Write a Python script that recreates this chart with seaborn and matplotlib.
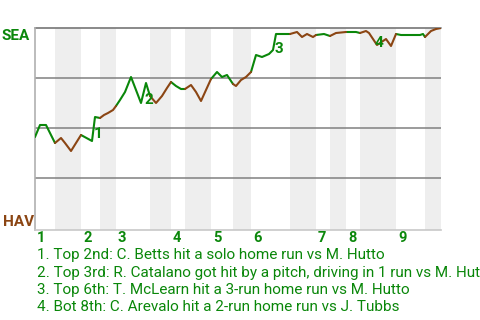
import matplotlib
matplotlib.use("Agg")
import matplotlib.pyplot as plt
import matplotlib.transforms as mtransforms
import seaborn as sns
import pandas as pd

# ---- data ----
# play position (horizontal offset along the game) and SEA win probability
play_x = [0, 5, 11, 20, 26, 30, 36, 46, 57, 60, 65, 69, 73, 78, 81, 85, 90, 96, 106, 111,
          115, 121, 127, 132, 136, 141, 146, 150, 156, 161, 166, 171, 176, 182, 187, 192,
          198, 201, 206, 211, 216, 221, 227, 234, 238, 241, 255, 262, 267, 272, 278, 281,
          289, 295, 301, 311, 321, 325, 331, 334, 342, 351, 356, 361, 366, 372, 380, 385,
          388, 390, 396, 401, 406]
sea_wp = [0.455, 0.515, 0.515, 0.425, 0.45, 0.425, 0.385, 0.465, 0.435, 0.555, 0.55, 0.565,
          0.575, 0.59, 0.61, 0.64, 0.68, 0.755, 0.625, 0.725, 0.66, 0.625, 0.66, 0.70, 0.73,
          0.71, 0.695, 0.695, 0.715, 0.68, 0.635, 0.69, 0.745, 0.78, 0.755, 0.765, 0.72,
          0.71, 0.74, 0.755, 0.78, 0.865, 0.855, 0.87, 0.89, 0.97, 0.97, 0.98, 0.955, 0.97,
          0.955, 0.965, 0.97, 0.96, 0.975, 0.98, 0.98, 0.975, 0.985, 0.975, 0.915, 0.945,
          0.91, 0.97, 0.965, 0.965, 0.965, 0.965, 0.97, 0.955, 0.985, 0.995, 1.0]
# half-inning boundaries (top 1st, bot 1st, top 2nd, ...)
half_bounds = [0, 20, 46, 65, 81, 115, 136, 150, 176, 198, 216, 255, 281, 295, 311, 325,
               361, 390, 406]
inning_labels = ["1", "2", "3", "4", "5", "6", "7", "8", "9"]
event_ids = ["1", "2", "3", "4"]
event_x = [60, 111, 241, 342]
event_wp = [0.555, 0.725, 0.97, 0.915]
event_texts = [
    "1. Top 2nd: C. Betts hit a solo home run vs M. Hutto",
    "2. Top 3rd: R. Catalano got hit by a pitch, driving in 1 run vs M. Hutto",
    "3. Top 6th: T. McLearn hit a 3-run home run vs M. Hutto",
    "4. Bot 8th: C. Arevalo hit a 2-run home run vs J. Tubbs",
]
team_top = "SEA"
team_bottom = "HAV"

GREEN = "#0a870a"
BROWN = "#8b4513"

sns.set_style("white")
plt.rcParams["font.family"] = ["Roboto", "DejaVu Sans"]

W, H = 480, 320
fig = plt.figure(figsize=(4.8, 3.2), dpi=100)
ax = fig.add_axes([35 / W, (H - 230) / H, 406 / W, 202 / H])

# build segment table
rows = []
for i in range(len(half_bounds) - 1):
    a, b = half_bounds[i], half_bounds[i + 1]
    team = team_top if i % 2 == 0 else team_bottom
    for x, y in zip(play_x, sea_wp):
        if a <= x <= b:
            rows.append({"x": x, "wp": y, "seg": i, "team": team})
df = pd.DataFrame(rows)

# shaded bottom halves
for i in range(1, len(half_bounds) - 1, 2):
    ax.axvspan(half_bounds[i], half_bounds[i + 1], color="#eeeeee", lw=0, zorder=0)

for yv in [0.25, 0.5, 0.75]:
    ax.axhline(yv, color="#808080", lw=1.1, zorder=1)
ax.axhline(1.0, color="#808080", lw=1.3, zorder=1, clip_on=False)

sns.lineplot(data=df, x="x", y="wp", hue="team", units="seg", estimator=None,
             palette={team_top: GREEN, team_bottom: BROWN}, lw=1.5, legend=False,
             ax=ax, zorder=3, sort=False)

offsets = {"1": (3, -17), "2": (3, -17), "3": (3, -15), "4": (2, 2)}
for lab, ex, ey in zip(event_ids, event_x, event_wp):
    ax.annotate(lab, (ex, ey), xytext=offsets[lab], textcoords="offset pixels",
                ha="center", va="center", color=GREEN, fontsize=11, fontweight="bold",
                zorder=4)

ax.set_xlim(0, 406)
ax.set_ylim(-0.01, 1)
ax.set_xticks([])
ax.set_yticks([])
ax.set_xlabel("")
ax.set_ylabel("")
for s in ["top", "right"]:
    ax.spines[s].set_visible(False)
ax.spines["left"].set_color("#b0b0b0")
ax.spines["bottom"].set_color("#c8c8c8")
ax.spines["left"].set_linewidth(1.2)
ax.spines["bottom"].set_linewidth(1.2)

# inning labels
starts = half_bounds[0:-1:2]
lab_tr = ax.get_xaxis_transform() + mtransforms.ScaledTranslation(0, -(242 - 230) / 100,
                                                                   fig.dpi_scale_trans)
for lab, sx in zip(inning_labels, starts):
    ax.text(sx + 2, 0, lab, transform=lab_tr, color=GREEN, fontsize=10.5,
            fontweight="bold", ha="left", va="baseline", clip_on=False)

fig.text(2 / W, 1 - 40 / H, team_top, color=GREEN, fontsize=11, fontweight="bold",
         ha="left", va="baseline")
fig.text(3 / W, 1 - 226 / H, team_bottom, color=BROWN, fontsize=11, fontweight="bold",
         ha="left", va="baseline")

baselines = [259, 277, 294, 311]
for txt, bl in zip(event_texts, baselines):
    fig.text(37 / W, 1 - bl / H, txt, color=GREEN, fontsize=11, ha="left", va="baseline")

fig.savefig("out.png", dpi=100)
